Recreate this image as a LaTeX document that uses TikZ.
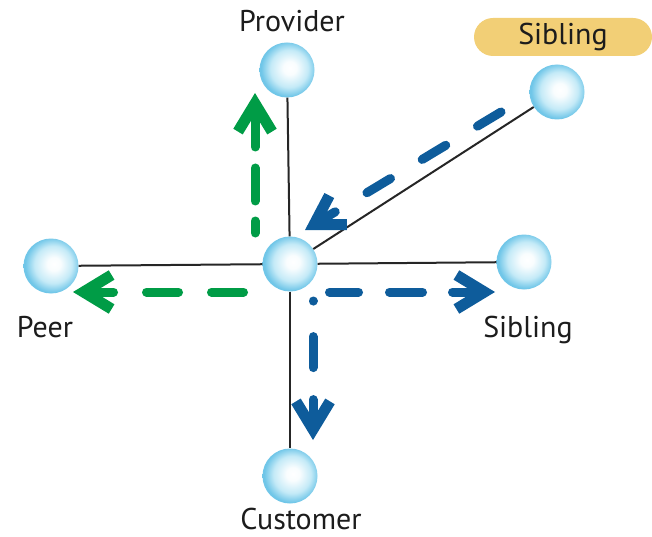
\documentclass[tikz,border=0pt]{standalone}
\usepackage{fontspec}
\setmainfont{PT Sans}
\usetikzlibrary{arrows.meta}
\usetikzlibrary{calc}

\definecolor{bubbleedge}{RGB}{112,198,232}
\definecolor{bubblemid}{RGB}{196,234,247}
\definecolor{arrgreen}{RGB}{0,156,70}
\definecolor{arrblue}{RGB}{14,92,155}
\definecolor{pilltan}{RGB}{242,207,118}
\definecolor{labeltext}{RGB}{28,28,28}
\pgfdeclareradialshading{bubble}{\pgfpoint{3bp}{2bp}}{color(0bp)=(white); color(6bp)=(white!90!bubblemid); color(17bp)=(bubblemid); color(25bp)=(bubbleedge); color(50bp)=(bubbleedge)}

\begin{document}
\begin{tikzpicture}[x=1pt,y=-1pt]
    \useasboundingbox (0,0) rectangle (652,537);

    \begin{scope}[every node/.style={circle,inner sep=0pt,minimum size=55pt,shading=bubble}]
        \foreach \n/\x/\y in {ctr/290/264,prov/287/70,sibtop/557/92,peer/51/266,sibr/524/262,cust/290/476}{
            \node (\n) at (\x,\y) {};
        }
    \end{scope}

    \begin{scope}[every edge/.style={draw=black!85,line width=2pt}]
        \path (ctr) edge (prov);
        \path (ctr) edge (sibtop);
        \path (ctr) edge (peer);
        \path (ctr) edge (sibr);
        \path (ctr) edge (cust);
    \end{scope}

    \begin{scope}[every node/.style={font=\fontsize{30}{34}\selectfont,text=labeltext,anchor=base,inner sep=1pt}]
        \node (provlbl) at (292,32) {Provider};
        \node (peerlbl) at (45,337) {Peer};
        \node (sibrlbl) at (528,337) {Sibling};
        \node (custlbl) at (301,529) {Customer};
        \node[fill=pilltan,rounded corners=19pt,minimum width=178pt,minimum height=38pt,anchor=center] (siblbl) at (563,37) {Sibling};
    \end{scope}

    \begin{scope}[>={Straight Barb[length=28pt,width=34pt,line width=11pt]},
            every path/.style={line width=9pt,line cap=round}]
        \coordinate (upS) at (255,233);
        \coordinate (upE) at (255,93);
        \coordinate (leftS) at (243.5,292);
        \coordinate (leftE) at (73,292);
        \coordinate (downS) at (313,301);
        \coordinate (downE) at (313,440);
        \coordinate (rightS) at (329.5,292);
        \coordinate (rightE) at (495,292);
        \coordinate (diagS) at (501,112);
        \coordinate (diagE) at (305,230);
        \draw [->,arrgreen,dash pattern=on 12pt off 20pt on 33pt off 21pt on 300pt] (upS) -- (upE);
        \draw [->,arrgreen,dash pattern=on 32pt off 33pt on 32pt off 33pt on 300pt] (leftS) -- (leftE);
        \draw [->,arrblue,dash pattern=on 0.1pt off 35.5pt on 31pt off 32pt on 300pt] (downS) -- (downE);
        \draw [->,arrblue,dash pattern=on 29pt off 31pt on 33pt off 30pt on 300pt] (rightS) -- (rightE);
        \draw [->,arrblue,dash pattern=on 27.5pt off 37pt on 27.5pt off 37pt on 27.5pt off 37pt on 300pt] (diagS) -- (diagE);
    \end{scope}
\end{tikzpicture}
\end{document}
